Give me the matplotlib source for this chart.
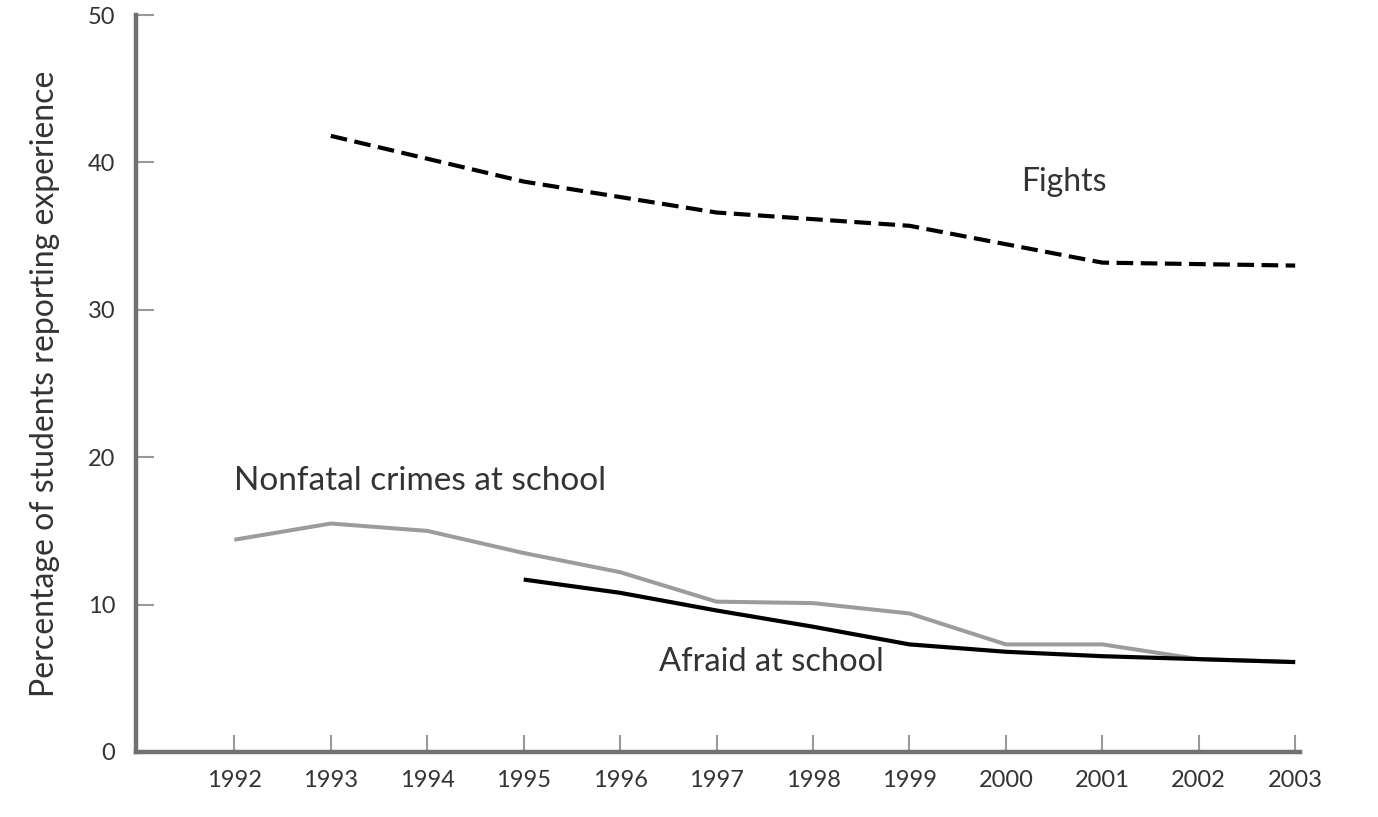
import numpy as np
import matplotlib
matplotlib.use("Agg")
import matplotlib.pyplot as plt

plt.rcParams['font.family'] = ['Lato', 'DejaVu Sans']

# ----------- DATA -------------------------------------- #

fight_years = [1993, 1995, 1997, 1999, 2001, 2003]
fights = [41.8, 38.7, 36.6, 35.7, 33.2, 33.0]

crime_years = [1992, 1993, 1994, 1995, 1996, 1997, 1998, 1999, 2000, 2001, 2002, 2003]
crimes = [14.4, 15.5, 15.0, 13.5, 12.2, 10.2, 10.1, 9.4, 7.3, 7.3, 6.3, 6.1]

afraid_years = [1995, 1996, 1997, 1998, 1999, 2000, 2001, 2002, 2003]
afraid = [11.7, 10.8, 9.6, 8.5, 7.3, 6.8, 6.5, 6.3, 6.1]

year_ticks = list(range(1992, 2004))
pct_ticks = [0, 10, 20, 30, 40, 50]

ylabel = "Percentage of students reporting experience"
txt_color = '#333333'
axis_color = '#707070'

# ----------- PLOT ------------- #

W, H = 1378, 817
fig = plt.figure(figsize=(W / 100, H / 100), dpi=100)
# axes box in pixels: left 136, right 1300, bottom 752, top 15
ax = fig.add_axes([136 / W, (H - 752) / H, (1300 - 136) / W, (752 - 15) / H])

ax.plot(crime_years, crimes, color='#9c9c9c', lw=2.9, solid_capstyle='butt', zorder=2)
ax.plot(afraid_years, afraid, color='black', lw=3.0, solid_capstyle='butt', zorder=3)
ax.plot(fight_years, fights, color='black', lw=3.0, dashes=(4.0, 1.8), zorder=3)

ax.set_xlim(1990.98, 2003.05)
ax.set_ylim(0, 50)

ax.set_xticks(year_ticks)
ax.set_xticklabels([str(y) for y in year_ticks])
ax.set_yticks(pct_ticks)
ax.set_yticklabels([str(v) for v in pct_ticks])

ax.spines['top'].set_visible(False)
ax.spines['right'].set_visible(False)
for s in ('left', 'bottom'):
    ax.spines[s].set_color(axis_color)
    ax.spines[s].set_linewidth(3.2)

ax.tick_params(axis='x', direction='in', length=12, width=1.5, color='#999999',
               pad=13, labelsize=17, labelcolor=txt_color)
ax.tick_params(axis='y', direction='in', length=13, width=1.5, color='#999999',
               pad=15, labelsize=17, labelcolor=txt_color)

ax.set_ylabel(ylabel, fontsize=23, color=txt_color, labelpad=20)

ax.text(2000.6, 38.7, "Fights", fontsize=23, color=txt_color, ha='center', va='center')
ax.text(1992.0, 18.4, "Nonfatal crimes at school", fontsize=24, color=txt_color,
        ha='left', va='center')
ax.text(1996.4, 6.1, "Afraid at school", fontsize=23.5, color=txt_color,
        ha='left', va='center')

fig.savefig("out.png", dpi=100)
